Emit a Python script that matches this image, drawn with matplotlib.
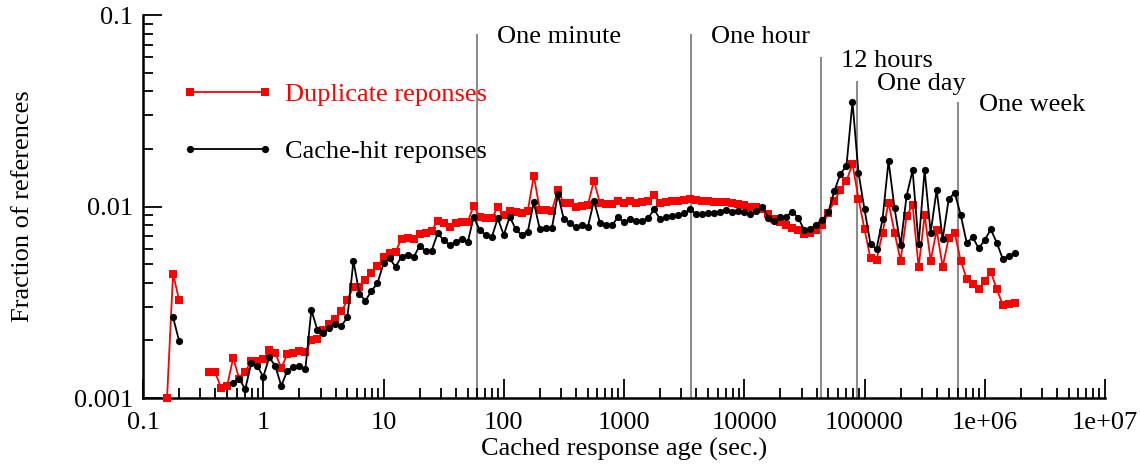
import numpy as np
import matplotlib
matplotlib.use('Agg')
import matplotlib.pyplot as plt
from matplotlib.ticker import FixedLocator, FixedFormatter, LogLocator, NullFormatter

plt.rcParams['font.family'] = ['Liberation Serif', 'DejaVu Serif']

# ---------------- data ----------------
bins_per_decade = 20
first_bin = -16          # first bin exponent (age = 10**(bin/20))
nan = np.nan

duplicate = [
    0.001, 0.00445, 0.00325, nan, nan, nan, nan,
    0.00136, 0.00136, 0.00113, 0.00116, 0.00162, 0.00126, 0.00137, 0.00156, 0.00156,
    0.00159, 0.00178, 0.00172, 0.00143, 0.0017, 0.00172, 0.00177, 0.00174, 0.0020, 0.00204,
    0.00226, 0.00243, 0.0026, 0.00283, 0.00325, 0.00381, 0.00379, 0.00413, 0.00448, 0.00489,
    0.00543, 0.00569, 0.0058, 0.00679, 0.00682, 0.00674, 0.00716, 0.0073, 0.00748, 0.00844,
    0.00823, 0.00785, 0.00817, 0.00826, 0.0083, 0.0101, 0.0088, 0.00867, 0.00867, 0.0099,
    0.00904, 0.00951, 0.0094, 0.0092, 0.00951, 0.0145, 0.0096, 0.0096, 0.0095, 0.0122,
    0.0104, 0.0104, 0.00998, 0.0101, 0.0102, 0.01365, 0.0104, 0.0103, 0.0103, 0.0107,
    0.01048, 0.0107, 0.01048, 0.0106, 0.0107, 0.0115, 0.01048, 0.0106, 0.0107, 0.0107,
    0.0108, 0.0110, 0.0108, 0.0107, 0.0107, 0.0106, 0.0106, 0.0105, 0.0104, 0.0103,
    0.0102, 0.00998, 0.0099, 0.0097, 0.0091, 0.0086, 0.00834, 0.0080, 0.00769, 0.00754,
    0.0072, 0.00728, 0.0075, 0.0080, 0.0093, 0.0107, 0.0122, 0.0136, 0.0167, 0.0110,
    0.0076, 0.00536, 0.00526, 0.0073, 0.01048, 0.0073, 0.00521, 0.0089, 0.0102, 0.00481,
    0.00904, 0.00521, 0.00754, 0.00485, 0.00682, 0.00725, 0.00521, 0.0042, 0.00394, 0.00371,
    0.00408, 0.00457, 0.0037, 0.00306, 0.0031, 0.00312,
]

cache_hit = [
    nan, 0.00264, 0.00199, nan, nan, nan, nan,
    nan, nan, nan, nan, 0.0012, 0.00126, 0.00111, 0.00152, 0.001475,
    0.00129, 0.00163, 0.00147, 0.001156, 0.00139, 0.001446, 0.00147, 0.00141, 0.00288, 0.00227,
    0.00218, 0.00233, 0.00243, 0.00238, 0.00264, 0.00519, 0.00349, 0.00322, 0.00363, 0.00397,
    0.00505, 0.00536, 0.00485, 0.00547, 0.0056, 0.00543, 0.00622, 0.00586, 0.00588, 0.00724,
    0.00668, 0.00629, 0.00655, 0.00676, 0.0065, 0.0088, 0.00753, 0.0071, 0.0069, 0.00867,
    0.0071, 0.00885, 0.0076, 0.0071, 0.0074, 0.01052, 0.0076, 0.00769, 0.00769, 0.01159,
    0.00857, 0.00823, 0.00778, 0.00797, 0.00785, 0.0107, 0.00823, 0.0080, 0.00797, 0.0088,
    0.00826, 0.0086, 0.0084, 0.00844, 0.00867, 0.00966, 0.00858, 0.00885, 0.0089, 0.00904,
    0.0092, 0.00966, 0.0091, 0.0091, 0.0092, 0.0092, 0.0094, 0.0096, 0.0094, 0.0095,
    0.0094, 0.0091, 0.0095, 0.0100, 0.0087, 0.0084, 0.0088, 0.00885, 0.0094, 0.0087,
    0.0075, 0.0076, 0.0080, 0.0085, 0.0094, 0.0121, 0.0148, 0.0163, 0.0352, 0.0150,
    0.00966, 0.00637, 0.0060, 0.00858, 0.0173, 0.00977, 0.00627, 0.01135, 0.01546, 0.00637,
    0.01546, 0.0073, 0.0122, 0.00676, 0.0109, 0.0118, 0.00904, 0.00647, 0.0069, 0.00605,
    0.00668, 0.0076, 0.00647, 0.00532, 0.00554, 0.00569,
]

age = 10.0 ** (np.arange(first_bin, first_bin + len(duplicate)) / bins_per_decade)

mark_names = ["One minute", "One hour", "12 hours", "One day", "One week"]
mark_seconds = [60, 3600, 43200, 86400, 604800]
mark_tops = [0.08, 0.08, 0.06, 0.045, 0.035]

xtick_values = [0.1, 1, 10, 100, 1000, 1e4, 1e5, 1e6, 1e7]
xtick_labels = ["0.1", "1", "10", "100", "1000", "10000", "100000", "1e+06", "1e+07"]
ytick_values = [0.001, 0.01, 0.1]
ytick_labels = ["0.001", "0.01", "0.1"]

# ---------------- figure ----------------
W, H = 1140, 465
fig = plt.figure(figsize=(W / 100, H / 100), dpi=100)
ax = fig.add_axes([143 / W, 1 - 398 / H, 962 / W, 383 / H])
ax.set_xscale('log')
ax.set_yscale('log')
ax.set_xlim(0.1, 1e7)
ax.set_ylim(0.001, 0.1)

FS = 19

for name, sec, top in zip(mark_names, mark_seconds, mark_tops):
    ax.vlines(sec, 0.001, top, color='#8c8c8c', lw=1.5, zorder=1)
    ax.annotate(name, xy=(sec, top), xytext=(14.5, -6.5), textcoords='offset points',
                ha='left', va='baseline', fontsize=FS, color='black')

ax.plot(age, duplicate, color='#ff0000', lw=1.3, marker='s', ms=5.6, mew=0,
        label='Duplicate reponses', clip_on=False, zorder=3)
ax.plot(age, cache_hit, color='black', lw=1.3, marker='o', ms=5.2, mew=0,
        label='Cache-hit reponses', clip_on=False, zorder=4)

ax.xaxis.set_major_locator(FixedLocator(xtick_values))
ax.xaxis.set_major_formatter(FixedFormatter(xtick_labels))
ax.xaxis.set_minor_locator(LogLocator(base=10, subs=np.arange(2, 10), numticks=20))
ax.xaxis.set_minor_formatter(NullFormatter())
ax.yaxis.set_major_locator(FixedLocator(ytick_values))
ax.yaxis.set_major_formatter(FixedFormatter(ytick_labels))
ax.yaxis.set_minor_locator(LogLocator(base=10, subs=np.arange(2, 10), numticks=20))
ax.yaxis.set_minor_formatter(NullFormatter())

ax.tick_params(which='major', direction='in', length=14, width=1.3, labelsize=FS)
ax.tick_params(axis='x', which='major', pad=10)
ax.tick_params(axis='y', which='major', pad=7)
ax.tick_params(which='minor', direction='in', length=7, width=1.3)

for s in ['top', 'right']:
    ax.spines[s].set_visible(False)
for s in ['left', 'bottom']:
    ax.spines[s].set_linewidth(1.8)

ax.set_xlabel('Cached response age (sec.)', fontsize=FS)
ax.set_ylabel('Fraction of references', fontsize=FS)
ax.xaxis.set_label_coords(0.5, (398 - 438) / 383)
ax.yaxis.set_label_coords((34 - 143) / 962, 0.5)

leg = ax.legend(loc='upper left', bbox_to_anchor=((182 - 143) / 962, 1 - (83 - 15) / 383),
                frameon=False, fontsize=FS, numpoints=2, handlelength=3.44,
                handletextpad=0.46, labelspacing=1.27, borderpad=0, borderaxespad=0)
leg.get_texts()[0].set_color('#ff0000')
leg.get_texts()[1].set_color('black')

fig.savefig('out.png', dpi=100)
